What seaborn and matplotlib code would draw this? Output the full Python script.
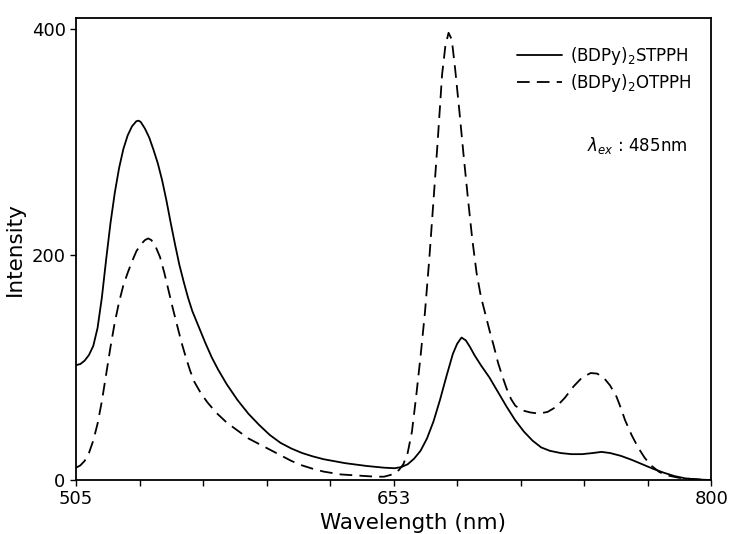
import numpy as np
import pandas as pd
import seaborn as sns
import matplotlib
matplotlib.use("Agg")
import matplotlib.pyplot as plt

# emission spectra (wavelength nm, intensity)
stpph_wl = [505, 507, 509, 511, 513, 515, 517, 519, 521, 523, 525, 527, 529, 531, 533, 534,
            535, 537, 539, 541, 543, 545, 547, 549, 551, 553, 555, 557, 559, 562, 565, 568,
            571, 575, 580, 585, 590, 595, 600, 605, 610, 615, 620, 630, 640, 648, 653, 656,
            659, 662, 665, 668, 671, 674, 677, 680, 682, 684, 686, 688, 690, 693, 697, 701,
            705, 709, 713, 717, 721, 725, 730, 735, 740, 745, 749, 753, 758, 763, 768, 773,
            778, 783, 788, 794, 800]
stpph_int = [102, 103, 106, 111, 119, 135, 162, 196, 228, 255, 277, 294, 306, 314, 318.5, 319,
             318, 312, 304, 293, 281, 266, 248, 228, 209, 191, 176, 162, 150, 136, 122, 109,
             98, 85, 71, 59, 49, 40, 33, 28, 24, 21, 18.5, 15, 12.5, 11, 10.5, 11.5,
             14, 19, 26, 37, 52, 71, 92, 112, 121, 126.5, 124, 118, 111, 102, 91, 78,
             65, 53, 43, 35, 29, 26, 24, 23, 23, 24, 25, 24, 21.5, 18, 14, 10,
             6.5, 3.5, 1.5, 0.5, 0]

otpph_wl = [505, 507, 509, 511, 513, 515, 517, 519, 521, 523, 525, 527, 529, 531, 533, 535,
            537, 538.5, 540, 542, 544, 546, 548, 550, 552, 554, 556, 558, 560, 563, 566, 570,
            575, 580, 585, 590, 595, 600, 605, 610, 615, 620, 628, 636, 644, 648, 651, 653,
            655, 657, 659, 661, 663, 665, 667, 669, 671, 673, 675, 676.5, 678, 679.5, 681, 683,
            685, 687, 689, 691, 693, 695, 697, 699, 701, 703, 705, 707, 709, 712, 716, 720,
            724, 728, 732, 736, 740, 744, 747, 750, 753, 756, 758, 760, 763, 766, 769, 772,
            776, 780, 785, 790, 795, 800]
otpph_int = [11, 13, 17, 24, 35, 50, 70, 94, 118, 140, 158, 173, 184, 194, 203, 209,
             213, 214.5, 213, 207, 198, 184, 168, 152, 137, 122, 109, 97, 87, 77, 69, 60,
             51, 44, 37, 32, 27, 22, 17, 13, 10, 7.5, 5, 4, 3, 3, 4.5, 6,
             9, 14, 24, 43, 75, 110, 148, 195, 248, 302, 360, 385, 397, 391, 366, 328,
             288, 250, 214, 184, 163, 148, 133, 119, 104, 92, 81, 72, 66, 62, 60, 59,
             60.5, 65, 73, 83, 91, 95, 94.5, 91, 84, 74, 64, 53, 40, 29, 20, 13,
             7, 4, 2, 1, 0.5, 0]

labels = ["(BDPy)$_2$STPPH", "(BDPy)$_2$OTPPH"]

df = pd.concat([
    pd.DataFrame({"wl": stpph_wl, "I": stpph_int, "sample": labels[0]}),
    pd.DataFrame({"wl": otpph_wl, "I": otpph_int, "sample": labels[1]}),
])

sns.set_style("ticks")
plt.rcParams["font.family"] = ["DejaVu Sans"]
plt.rcParams["text.color"] = "black"
plt.rcParams["axes.labelcolor"] = "black"

fig = plt.figure(figsize=(7.31, 5.34), dpi=100)
ax = fig.add_axes([0.104, 0.101, 0.869, 0.865])

sns.lineplot(data=df, x="wl", y="I", hue="sample", style="sample",
             palette=["black", "black"], dashes=["", (7, 4)],
             estimator=None, sort=False, linewidth=1.3, ax=ax)

ax.set_xlim(505, 800)
ax.set_ylim(0, 410)
ax.set_xticks(np.linspace(505, 800, 11))
ax.set_xticklabels(["505", "", "", "", "", "653", "", "", "", "", "800"])
ax.set_yticks([0, 200, 400])
ax.tick_params(direction="out", length=4, width=1, labelsize=13, colors="black")
for s in ax.spines.values():
    s.set_linewidth(1.3)
    s.set_color("black")

ax.set_xlabel("Wavelength (nm)", fontsize=15.5, labelpad=1)
ax.xaxis.set_label_coords(0.53, -0.072)
ax.set_ylabel("Intensity", fontsize=15.5, labelpad=5)

leg = ax.legend(loc="upper left", bbox_to_anchor=(0.67, 0.975), frameon=False,
                fontsize=12, handlelength=2.7, handletextpad=0.5,
                labelspacing=0.3, title=None)
ax.text(0.805, 0.725, r"$\lambda_{ex}$ : 485nm", transform=ax.transAxes,
        fontsize=12, va="center")

fig.savefig("out.png", dpi=100)
